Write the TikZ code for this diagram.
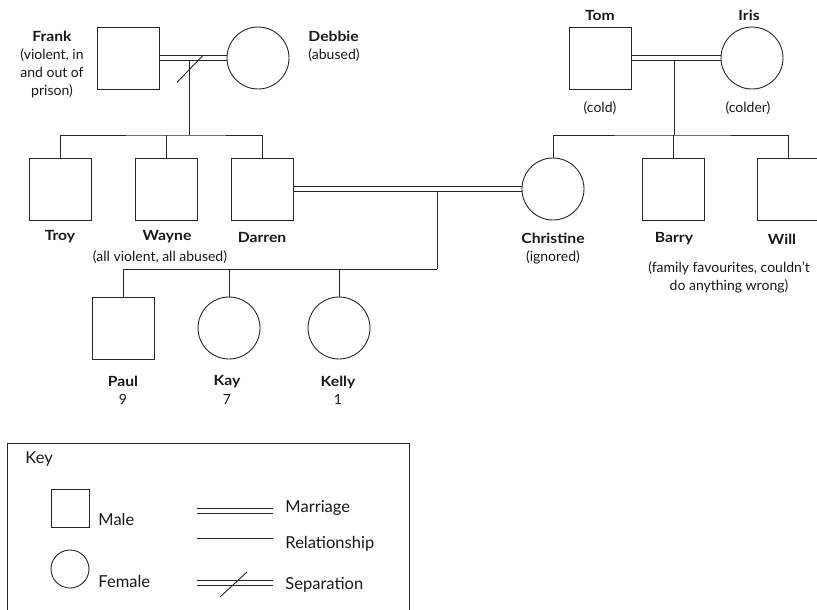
\documentclass[tikz,border=0pt]{standalone}
\usepackage{fontspec}
\setmainfont{Lato}[BoldFeatures={FakeStretch=1.12}]
\usetikzlibrary{calc}

\tikzset{
  male/.style={draw, minimum size=62pt, inner sep=0pt},
  female/.style={draw, circle, minimum size=62pt, inner sep=0pt},
  keymale/.style={draw, minimum size=38pt, inner sep=0pt},
  keyfemale/.style={draw, circle, minimum size=38pt, inner sep=0pt},
  who/.style={inner sep=0pt, align=center, text=black!90},
  kin/.style={who, font=\fontsize{14}{18.3}\selectfont\bfseries},
  keytext/.style={who, anchor=west, font=\fontsize{16.5}{20}\selectfont},
}

% two thin parallel strokes for a marriage
\newcommand{\wedline}[2]{%
  \draw ([yshift=2.4pt]#1) -- ([yshift=2.4pt]#2);
  \draw ([yshift=-2.4pt]#1) -- ([yshift=-2.4pt]#2);}

\begin{document}
\begin{tikzpicture}[x=1pt, y=-1pt, line width=0.9pt, draw=black!85,
    font=\fontsize{14}{18.3}\selectfont]
  \useasboundingbox (0,0) rectangle (817,610);
  \clip (0,0) rectangle (817,610);

  % grandparents
  \node [male] (frank) at (128.5, 58) {};
  \node [female] (debbie) at (258, 58) {};
  \node [male] (tom) at (600.5, 58) {};
  \node [female] (iris) at (752, 58) {};

  \node [who] (frankl) at (52, 64.5) {\textbf{Frank}\\(violent, in\\and out of\\prison)};
  \node [who, align=left, anchor=west] (debbiel) at (308, 46) {\textbf{Debbie}\\(abused)};
  \node [kin] (toml) at (600, 15) {Tom};
  \node [who] (tomn) at (600, 108) {(cold)};
  \node [kin] (irisl) at (749, 15) {Iris};
  \node [who] (irisn) at (748, 108) {(colder)};

  % parents
  \node [male] (troy) at (60.5, 189) {};
  \node [male] (wayne) at (166.5, 189) {};
  \node [male] (darren) at (262.5, 189) {};
  \node [female] (christine) at (553, 189) {};
  \node [male] (barry) at (673, 189) {};
  \node [male] (will) at (788.5, 189) {};

  \node [kin] (troyl) at (60, 237) {Troy};
  \node [kin] (waynel) at (167, 237) {Wayne};
  \node [kin] (darrenl) at (262, 237) {Darren};
  \node [who] (brothers) at (160, 257) {(all violent, all abused)};
  \node [who] (christinel) at (553, 248.5) {\textbf{Christine}\\(ignored)};
  \node [kin] (barryl) at (674, 239) {Barry};
  \node [kin] (willl) at (782, 239) {Will};
  \node [who] (favourites) at (729, 277.5) {(family favourites, couldn't\\do anything wrong)};

  % children
  \node [male] (paul) at (123, 328) {};
  \node [female] (kay) at (229, 328) {};
  \node [female] (kelly) at (339, 328) {};

  \node [who] (paull) at (123, 390) {\textbf{Paul}\\9};
  \node [who] (kayl) at (227, 390) {\textbf{Kay}\\7};
  \node [who] (kellyl) at (338, 390) {\textbf{Kelly}\\1};

  % marriages
  \wedline{frank.east}{debbie.west}
  \wedline{tom.east}{iris.west}
  \wedline{darren.east}{christine.west}

  \coordinate (fd) at ($(frank.east)!0.45!(debbie.west)$);
  \coordinate (ti) at ($(tom.east)!0.475!(iris.west)$);
  \coordinate (dc) at ($(darren.east)!0.63!(christine.west)$);
  \coordinate (fdbar) at ($(fd)+(0,77)$);
  \coordinate (tibar) at ($(ti)+(0,77)$);
  \coordinate (dcbar) at ($(dc)+(0,80)$);

  % separation
  \draw ($(fd)+(-13,24.5)$) -- ($(fd)+(13,-2.5)$);

  % offspring
  \draw ($(fd)+(0,2.4)$) -- (fdbar);
  \draw (troy.north) |- (fdbar) -| (darren.north);
  \draw (wayne.north) -- (wayne.north |- fdbar);

  \draw ($(ti)+(0,2.4)$) -- (tibar);
  \draw (christine.north) |- (tibar) -| (will.north);
  \draw (barry.north) -- (barry.north |- tibar);

  \draw ($(dc)+(0,2.4)$) -- (dcbar);
  \draw (paul.north) |- (dcbar);
  \draw (kay.north) -- (kay.north |- dcbar);
  \draw (kelly.north) -- (kelly.north |- dcbar);

  % key
  \draw (7, 443) rectangle (409, 625);
  \node [keytext] (key) at (25, 459) {Key};
  \node [keymale] (kmale) at (70, 508) {};
  \node [keytext] (kmalel) at (98, 519) {Male};
  \node [keyfemale] (kfemale) at (70, 569) {};
  \node [keytext] (kfemalel) at (98, 581) {Female};

  \coordinate (ma) at (197, 511);
  \coordinate (mb) at (273, 511);
  \coordinate (ra) at (197, 538);
  \coordinate (rb) at (273, 538);
  \coordinate (sa) at (197, 583);
  \coordinate (sb) at (273, 583);
  \wedline{ma}{mb}
  \draw (ra) -- (rb);
  \wedline{sa}{sb}
  \draw (220, 597) -- (247, 572);
  \node [keytext] (kmarriage) at (285, 508) {Marriage};
  \node [keytext] (krelation) at (285, 544) {Relationship};
  \node [keytext] (kseparation) at (285, 585) {Separation};
\end{tikzpicture}
\end{document}
